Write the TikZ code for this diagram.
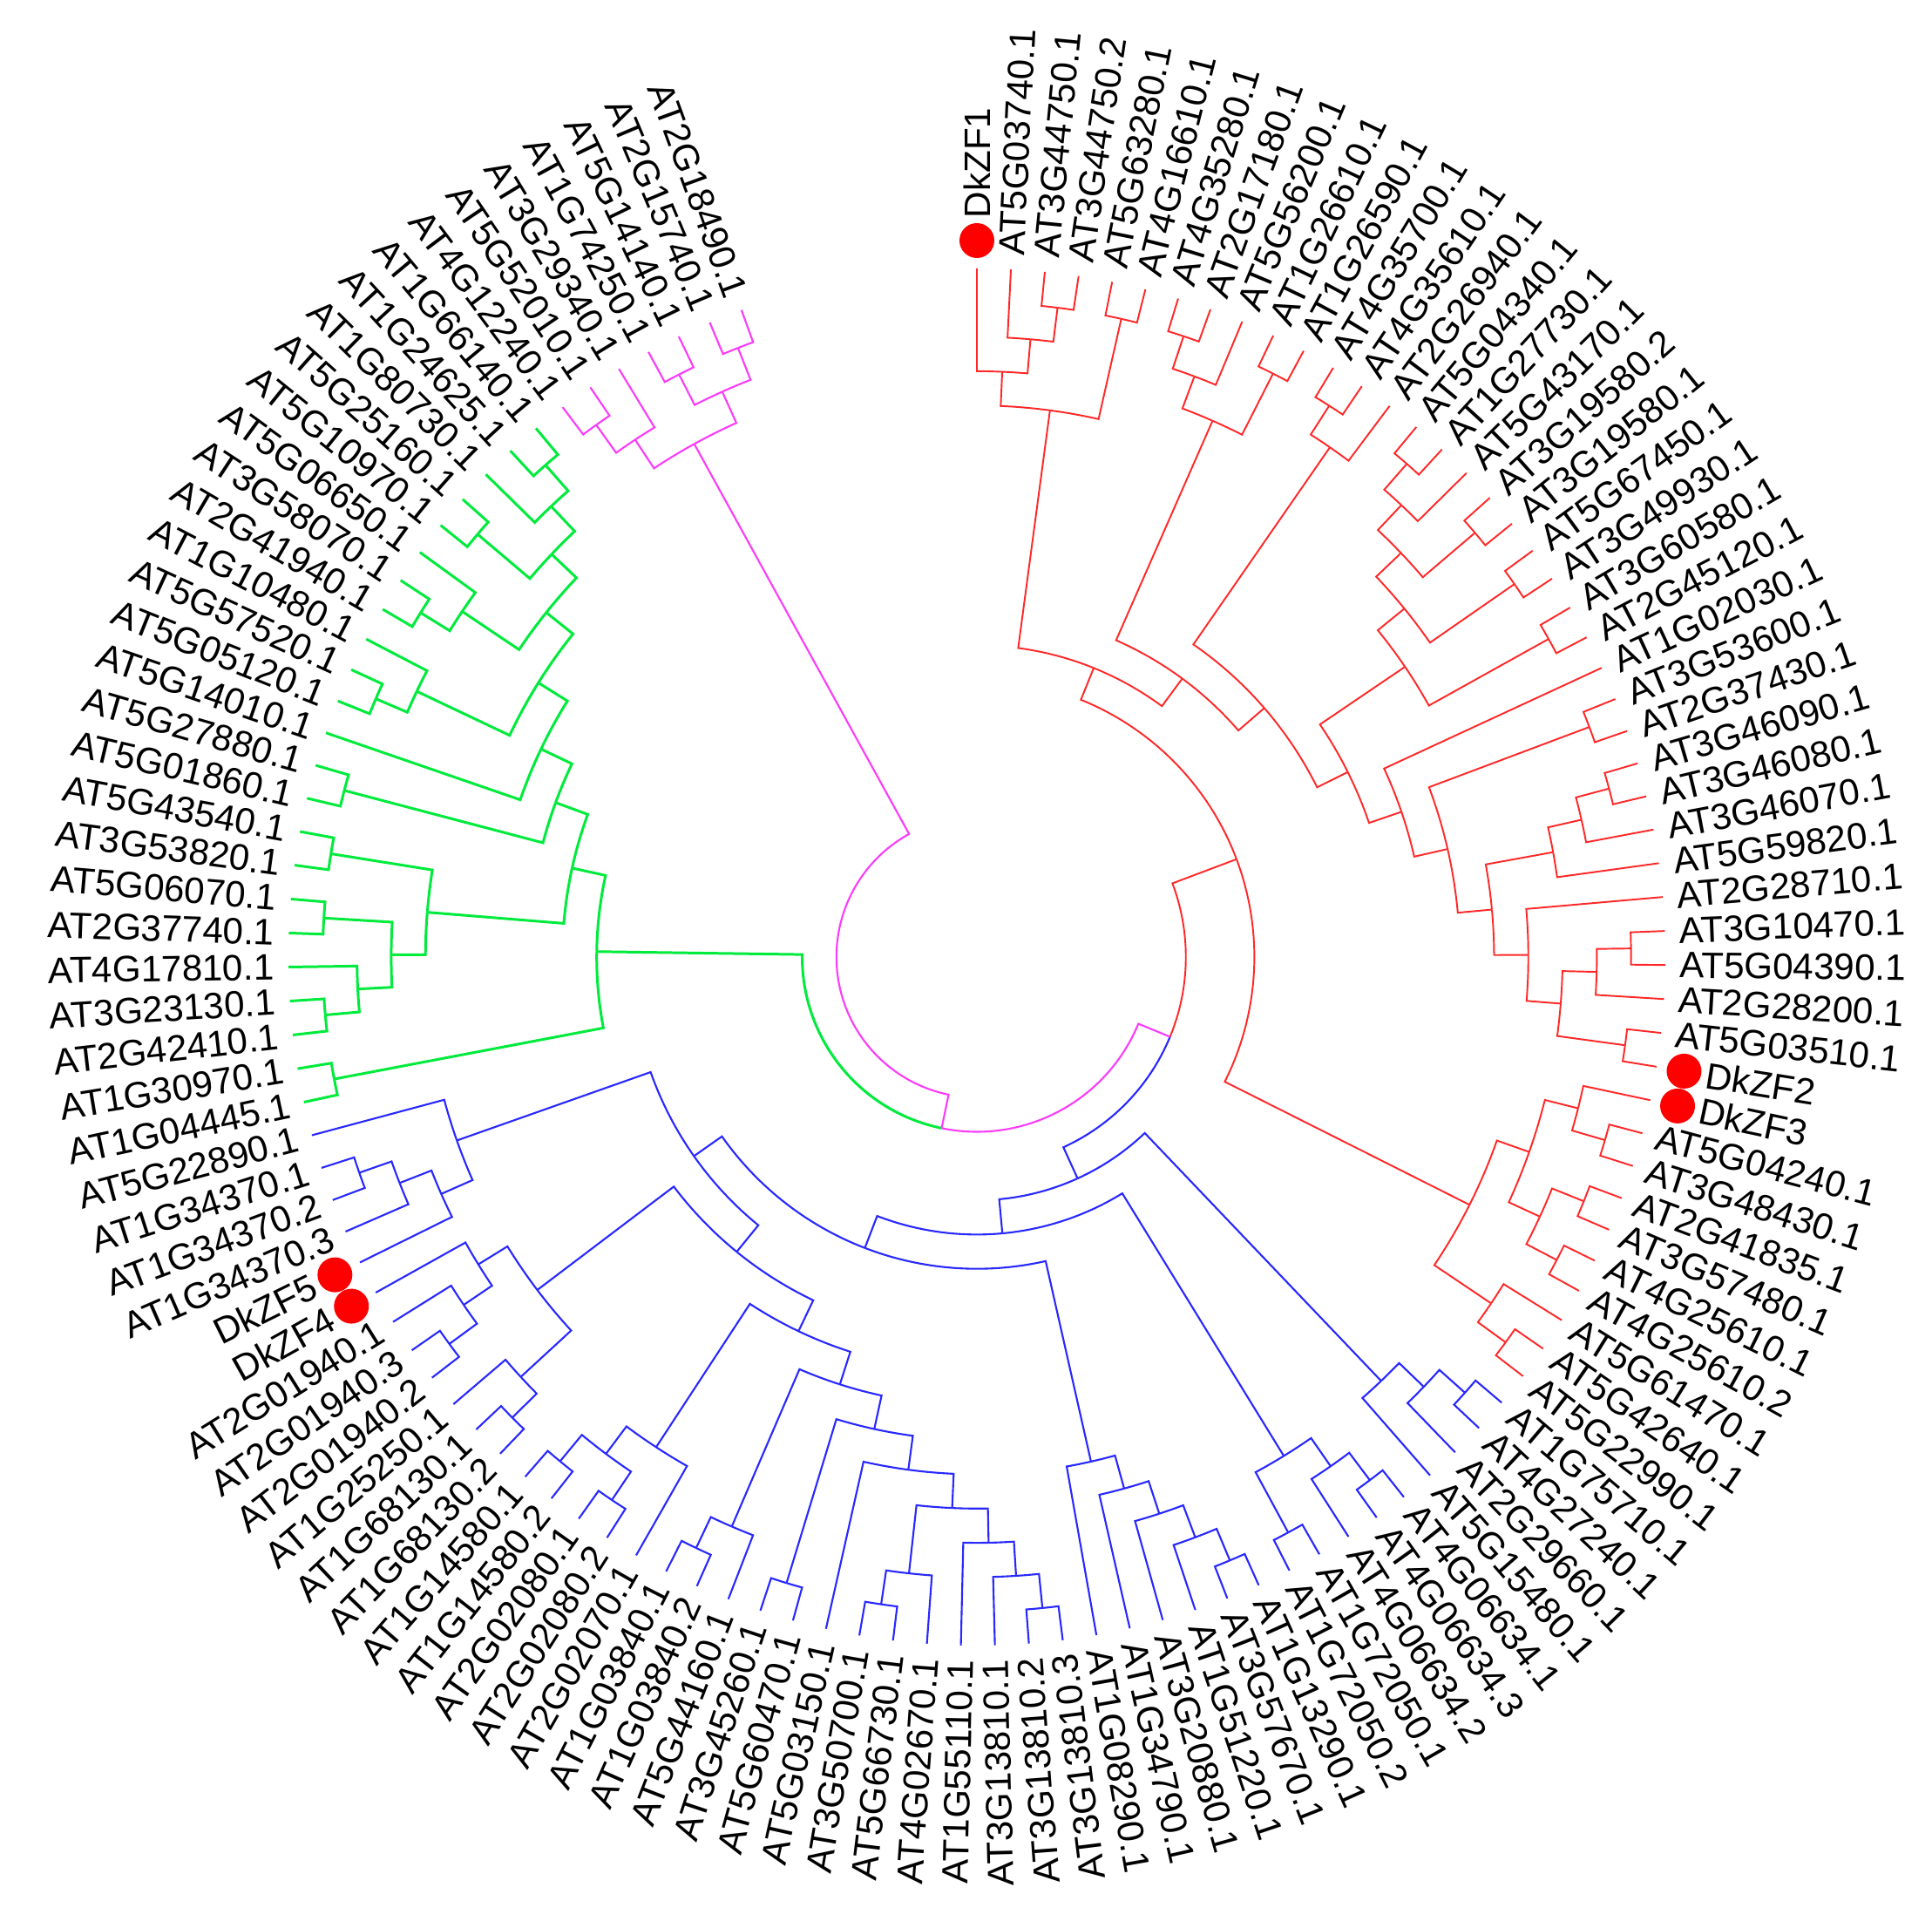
\documentclass[tikz,border=0pt]{standalone}
\usepackage{fontspec}
\setmainfont{Liberation Sans}
\definecolor{cR}{RGB}{255,40,40}
\definecolor{cB}{RGB}{40,40,255}
\definecolor{cG}{RGB}{0,235,60}
\definecolor{cM}{RGB}{250,60,250}
\tikzset{
  redl/.style={draw=cR, line width=0.55pt},
  bluel/.style={draw=cB, line width=0.6pt},
  grnl/.style={draw=cG, line width=0.85pt},
  magl/.style={draw=cM, line width=0.6pt},
  lbl/.style={inner sep=0pt, font=\fontsize{12}{14}\selectfont},
  dotc/.style={fill=red, draw=none},
}
\def\Astep{2.833333}
\def\Rleaf{7.90}
\def\dR{0.393}
\def\Rlab{8.06}
\def\Rdot{8.22}
\def\Rdlab{8.47}
% leaf: index, text, colour style, label radius
\newcommand\Leaf[4]{%
  \pgfmathsetmacro\tmpA{90-(#1-1)*\Astep}%
  \expandafter\xdef\csname ang@L#1\endcsname{\tmpA}%
  \expandafter\xdef\csname hgt@L#1\endcsname{0}%
  \expandafter\xdef\csname col@L#1\endcsname{#3}%
  \coordinate (L#1) at (\tmpA:\Rleaf);%
  \pgfmathtruncatemacro\flip{\tmpA<-81}%
  \ifnum\flip=1
    \pgfmathsetmacro\rot{\tmpA+180}%
    \node[lbl,anchor=east,rotate=\rot] (t#1) at (\tmpA:#4) {#2};%
  \else
    \node[lbl,anchor=west,rotate=\tmpA] (t#1) at (\tmpA:#4) {#2};%
  \fi
}
\newcommand\Lr[2]{\Leaf{#1}{#2}{redl}{\Rlab}}
\newcommand\Lb[2]{\Leaf{#1}{#2}{bluel}{\Rlab}}
\newcommand\Lg[2]{\Leaf{#1}{#2}{grnl}{\Rlab}}
\newcommand\Lm[2]{\Leaf{#1}{#2}{magl}{\Rlab}}
\newcommand\Dot[1]{%
  \pgfmathsetmacro\tmpA{90-(#1-1)*\Astep}%
  \fill[dotc] (\tmpA:\Rdot) circle (0.2);%
}
% internal node: name, child A, child B, colour style
\newcommand\Nd[4]{%
  \edef\aA{\csname ang@#2\endcsname}%
  \edef\aB{\csname ang@#3\endcsname}%
  \edef\hA{\csname hgt@#2\endcsname}%
  \edef\hB{\csname hgt@#3\endcsname}%
  \edef\cA{\csname col@#2\endcsname}%
  \edef\cB{\csname col@#3\endcsname}%
  \pgfmathsetmacro\an{(\aA+\aB)/2}%
  \pgfmathtruncatemacro\hn{max(\hA,\hB)+1}%
  \pgfmathsetmacro\rn{\Rleaf-\hn*\dR}%
  \expandafter\xdef\csname ang@#1\endcsname{\an}%
  \expandafter\xdef\csname hgt@#1\endcsname{\hn}%
  \expandafter\xdef\csname col@#1\endcsname{#4}%
  \coordinate (#1) at (\an:\rn);%
  \draw[\cA] (#1) arc[start angle=\an, end angle=\aA, radius=\rn] -- (#2);%
  \draw[\cB] (#1) arc[start angle=\an, end angle=\aB, radius=\rn] -- (#3);%
}
\begin{document}
\begin{tikzpicture}
\fill[white] (-11.21,-11.13) rectangle (10.96,10.98);
\useasboundingbox (-11.21,-11.13) rectangle (10.96,10.98);
% ---------------- leaves ----------------
\Leaf{1}{DkZF1}{redl}{\Rdlab}\Dot{1}
\Lr{2}{AT5G03740.1}
\Lr{3}{AT3G44750.1}
\Lr{4}{AT3G44750.2}
\Lr{5}{AT5G63280.1}
\Lr{6}{AT4G16610.1}
\Lr{7}{AT4G35280.1}
\Lr{8}{AT2G17180.1}
\Lr{9}{AT5G56200.1}
\Lr{10}{AT1G26610.1}
\Lr{11}{AT1G26590.1}
\Lr{12}{AT4G35700.1}
\Lr{13}{AT4G35610.1}
\Lr{14}{AT2G26940.1}
\Lr{15}{AT5G04340.1}
\Lr{16}{AT1G27730.1}
\Lr{17}{AT5G43170.1}
\Lr{18}{AT3G19580.2}
\Lr{19}{AT3G19580.1}
\Lr{20}{AT5G67450.1}
\Lr{21}{AT3G49930.1}
\Lr{22}{AT3G60580.1}
\Lr{23}{AT2G45120.1}
\Lr{24}{AT1G02030.1}
\Lr{25}{AT3G53600.1}
\Lr{26}{AT2G37430.1}
\Lr{27}{AT3G46090.1}
\Lr{28}{AT3G46080.1}
\Lr{29}{AT3G46070.1}
\Lr{30}{AT5G59820.1}
\Lr{31}{AT2G28710.1}
\Lr{32}{AT3G10470.1}
\Lr{33}{AT5G04390.1}
\Lr{34}{AT2G28200.1}
\Lr{35}{AT5G03510.1}
\Leaf{36}{DkZF2}{redl}{\Rdlab}\Dot{36}
\Leaf{37}{DkZF3}{redl}{\Rdlab}\Dot{37}
\Lr{38}{AT5G04240.1}
\Lr{39}{AT3G48430.1}
\Lr{40}{AT2G41835.1}
\Lr{41}{AT3G57480.1}
\Lr{42}{AT4G25610.1}
\Lr{43}{AT4G25610.2}
\Lr{44}{AT5G61470.1}
\Lr{45}{AT5G42640.1}
\Lr{46}{AT5G22990.1}
\Lb{47}{AT1G75710.1}
\Lb{48}{AT4G27240.1}
\Lb{49}{AT2G29660.1}
\Lb{50}{AT5G15480.1}
\Lb{51}{AT4G06634.1}
\Lb{52}{AT4G06634.3}
\Lb{53}{AT4G06634.2}
\Lb{54}{AT1G72050.1}
\Lb{55}{AT1G72050.2}
\Lb{56}{AT1G13290.1}
\Lb{57}{AT3G57670.1}
\Lb{58}{AT1G51220.1}
\Lb{59}{AT3G20880.1}
\Lb{60}{AT1G34790.1}
\Lb{61}{AT1G08290.1}
\Lb{62}{AT3G13810.3}
\Lb{63}{AT3G13810.2}
\Lb{64}{AT3G13810.1}
\Lb{65}{AT1G55110.1}
\Lb{66}{AT4G02670.1}
\Lb{67}{AT5G66730.1}
\Lb{68}{AT3G50700.1}
\Lb{69}{AT5G03150.1}
\Lb{70}{AT5G60470.1}
\Lb{71}{AT3G45260.1}
\Lb{72}{AT5G44160.1}
\Lb{73}{AT1G03840.2}
\Lb{74}{AT1G03840.1}
\Lb{75}{AT2G02070.1}
\Lb{76}{AT2G02080.2}
\Lb{77}{AT2G02080.1}
\Lb{78}{AT1G14580.2}
\Lb{79}{AT1G14580.1}
\Lb{80}{AT1G68130.2}
\Lb{81}{AT1G68130.1}
\Lb{82}{AT1G25250.1}
\Lb{83}{AT2G01940.2}
\Lb{84}{AT2G01940.3}
\Lb{85}{AT2G01940.1}
\Leaf{86}{DkZF4}{bluel}{\Rdlab}\Dot{86}
\Leaf{87}{DkZF5}{bluel}{\Rdlab}\Dot{87}
\Lb{88}{AT1G34370.3}
\Lb{89}{AT1G34370.2}
\Lb{90}{AT1G34370.1}
\Lb{91}{AT5G22890.1}
\Lg{92}{AT1G04445.1}
\Lg{93}{AT1G30970.1}
\Lg{94}{AT2G42410.1}
\Lg{95}{AT3G23130.1}
\Lg{96}{AT4G17810.1}
\Lg{97}{AT2G37740.1}
\Lg{98}{AT5G06070.1}
\Lg{99}{AT3G53820.1}
\Lg{100}{AT5G43540.1}
\Lg{101}{AT5G01860.1}
\Lg{102}{AT5G27880.1}
\Lg{103}{AT5G14010.1}
\Lg{104}{AT5G05120.1}
\Lg{105}{AT5G57520.1}
\Lg{106}{AT1G10480.1}
\Lg{107}{AT2G41940.1}
\Lg{108}{AT3G58070.1}
\Lg{109}{AT5G06650.1}
\Lg{110}{AT5G10970.1}
\Lg{111}{AT5G25160.1}
\Lg{112}{AT1G80730.1}
\Lg{113}{AT1G24625.1}
\Lg{114}{AT1G66140.1}
\Lm{115}{AT4G12240.1}
\Lm{116}{AT5G52010.1}
\Lm{117}{AT3G29340.1}
\Lm{118}{AT1G74250.1}
\Lm{119}{AT5G14140.1}
\Lm{120}{AT2G15740.1}
\Lm{121}{AT2G18490.1}
% ---------------- red clade ----------------
\Nd{r34}{L3}{L4}{redl}
\Nd{r234}{L2}{r34}{redl}
\Nd{rA1}{L1}{r234}{redl}
\Nd{r56}{L5}{L6}{redl}
\Nd{rA}{rA1}{r56}{redl}
\Nd{r78}{L7}{L8}{redl}
\Nd{r789}{r78}{L9}{redl}
\Nd{r1011}{L10}{L11}{redl}
\Nd{rB}{r789}{r1011}{redl}
\Nd{r1213}{L12}{L13}{redl}
\Nd{rC}{r1213}{L14}{redl}
\Nd{r1516}{L15}{L16}{redl}
\Nd{rF}{r1516}{L17}{redl}
\Nd{r1819}{L18}{L19}{redl}
\Nd{rE}{rF}{r1819}{redl}
\Nd{r2021}{L20}{L21}{redl}
\Nd{rD1}{rE}{r2021}{redl}
\Nd{r2223}{L22}{L23}{redl}
\Nd{rD}{rD1}{r2223}{redl}
\Nd{r2526}{L25}{L26}{redl}
\Nd{r2728}{L27}{L28}{redl}
\Nd{rL}{r2728}{L29}{redl}
\Nd{rK}{rL}{L30}{redl}
\Nd{r3233}{L32}{L33}{redl}
\Nd{rN2}{r3233}{L34}{redl}
\Nd{r3536}{L35}{L36}{redl}
\Nd{rN4}{rN2}{r3536}{redl}
\Nd{rM}{L31}{rN4}{redl}
\Nd{rJ}{rK}{rM}{redl}
\Nd{rH}{r2526}{rJ}{redl}
\Nd{rG}{L24}{rH}{redl}
\Nd{rR3}{rD}{rG}{redl}
\Nd{rR2}{rC}{rR3}{redl}
\Nd{rQ}{rB}{rR2}{redl}
\Nd{rP}{rA}{rQ}{redl}
\Nd{r3839}{L38}{L39}{redl}
\Nd{rU}{L37}{r3839}{redl}
\Nd{r4041}{L40}{L41}{redl}
\Nd{r4243}{L42}{L43}{redl}
\Nd{rV}{r4041}{r4243}{redl}
\Nd{rT}{rU}{rV}{redl}
\Nd{r4546}{L45}{L46}{redl}
\Nd{rW}{L44}{r4546}{redl}
\Nd{rS}{rT}{rW}{redl}
\Nd{cladeR}{rP}{rS}{redl}
% ---------------- blue clade ----------------
\Nd{b4748}{L47}{L48}{bluel}
\Nd{b49}{b4748}{L49}{bluel}
\Nd{bR1}{b49}{L50}{bluel}
\Nd{b5152}{L51}{L52}{bluel}
\Nd{b53}{b5152}{L53}{bluel}
\Nd{b5455}{L54}{L55}{bluel}
\Nd{bL1}{b53}{b5455}{bluel}
\Nd{b5657}{L56}{L57}{bluel}
\Nd{b58}{L58}{b5657}{bluel}
\Nd{b59}{L59}{b58}{bluel}
\Nd{bM1}{L60}{b59}{bluel}
\Nd{bM}{L61}{bM1}{bluel}
\Nd{b6263}{L62}{L63}{bluel}
\Nd{b64}{L64}{b6263}{bluel}
\Nd{b65}{L65}{b64}{bluel}
\Nd{b6768}{L67}{L68}{bluel}
\Nd{b66}{L66}{b6768}{bluel}
\Nd{bZ}{b65}{b66}{bluel}
\Nd{bNe}{bZ}{L69}{bluel}
\Nd{b7071}{L70}{L71}{bluel}
\Nd{bNd}{b7071}{bNe}{bluel}
\Nd{b7374}{L73}{L74}{bluel}
\Nd{b72}{L72}{b7374}{bluel}
\Nd{bNc}{b72}{bNd}{bluel}
\Nd{b7879}{L78}{L79}{bluel}
\Nd{b7677}{L76}{L77}{bluel}
\Nd{b7679}{b7677}{b7879}{bluel}
\Nd{bNb1}{L75}{b7679}{bluel}
\Nd{bNb}{bNb1}{bNc}{bluel}
\Nd{b8384}{L83}{L84}{bluel}
\Nd{b85}{b8384}{L85}{bluel}
\Nd{b86}{b85}{L86}{bluel}
\Nd{b8081}{L80}{L81}{bluel}
\Nd{b82}{b8081}{L82}{bluel}
\Nd{bNa}{b86}{b82}{bluel}
\Nd{bN2}{bNa}{bNb}{bluel}
\Nd{b8990}{L89}{L90}{bluel}
\Nd{b88}{L88}{b8990}{bluel}
\Nd{b87}{L87}{b88}{bluel}
\Nd{bN1}{b87}{L91}{bluel}
\Nd{bN}{bN1}{bN2}{bluel}
\Nd{bL2}{bN}{bM}{bluel}
\Nd{bL}{bL1}{bL2}{bluel}
\Nd{cladeB}{bR1}{bL}{bluel}
% ---------------- green clade ----------------
\Nd{g9293}{L92}{L93}{grnl}
\Nd{g9495}{L94}{L95}{grnl}
\Nd{gq}{L96}{g9495}{grnl}
\Nd{g9798}{L97}{L98}{grnl}
\Nd{gr}{g9798}{gq}{grnl}
\Nd{g99}{L99}{L100}{grnl}
\Nd{gs}{g99}{gr}{grnl}
\Nd{g101}{L101}{L102}{grnl}
\Nd{g104}{L104}{L105}{grnl}
\Nd{gi}{L106}{g104}{grnl}
\Nd{g107}{L107}{L108}{grnl}
\Nd{gf}{L109}{g107}{grnl}
\Nd{g110}{L110}{L111}{grnl}
\Nd{g113}{L113}{L114}{grnl}
\Nd{gb}{g113}{L112}{grnl}
\Nd{gd}{gb}{g110}{grnl}
\Nd{gg}{gd}{gf}{grnl}
\Nd{gj}{gg}{gi}{grnl}
\Nd{gk}{gj}{L103}{grnl}
\Nd{gm}{gk}{g101}{grnl}
\Nd{gt}{gm}{gs}{grnl}
\Nd{cladeG}{gt}{g9293}{grnl}
% ---------------- magenta clade ----------------
\Nd{m115}{L115}{L116}{magl}
\Nd{m117}{m115}{L117}{magl}
\Nd{m118}{L118}{L119}{magl}
\Nd{m120}{L120}{L121}{magl}
\Nd{m4}{m118}{m120}{magl}
\Nd{cladeM}{m117}{m4}{magl}
% ---------------- backbone ----------------
\Nd{Y}{cladeR}{cladeB}{magl}
\Nd{X}{cladeG}{Y}{magl}
\Nd{root}{cladeM}{X}{magl}
\end{tikzpicture}
\end{document}
